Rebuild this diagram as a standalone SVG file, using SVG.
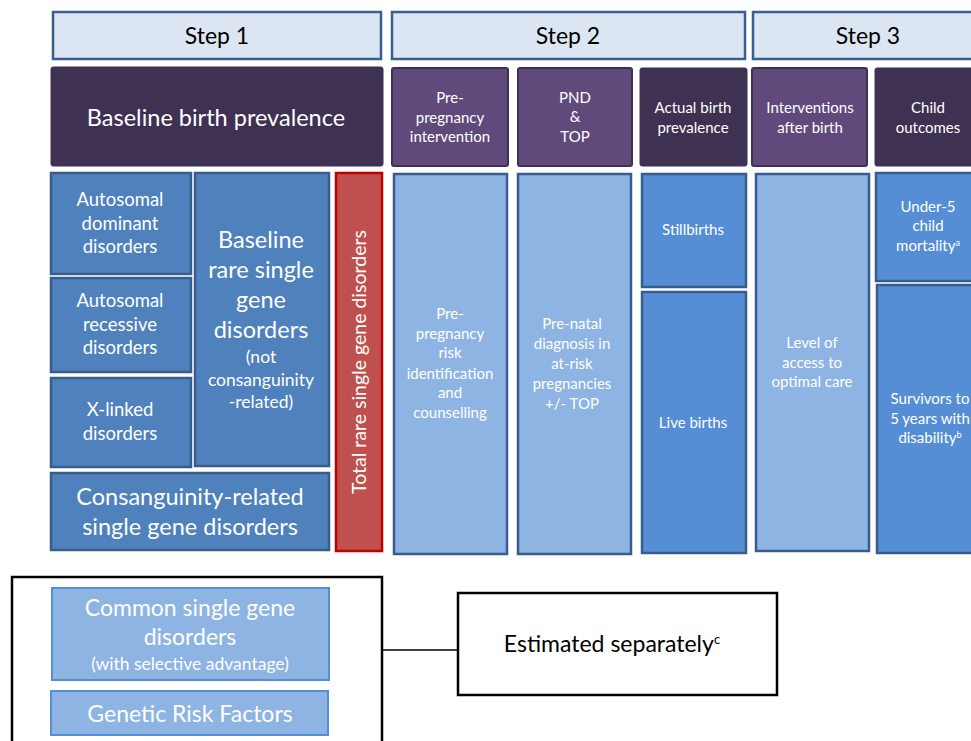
<svg xmlns="http://www.w3.org/2000/svg" width="971" height="741" viewBox="0 0 971 741">
<style>
text{font-family:Lato,"Liberation Sans",sans-serif;text-anchor:middle;fill:#fff}
.step{fill:#dce6f2;stroke:#3a5f8c;stroke-width:2.5}
.stept{fill:#000;font-size:23px}
.dp{fill:#3f3151;stroke:#3f3151;stroke-width:1}
.lp{fill:#604a7b;stroke:#3f3151;stroke-width:2}
.db{fill:#4f81bd;stroke:#385d8a;stroke-width:2.5}
.mb{fill:#558ed5;stroke:#385d8a;stroke-width:2.5}
.lb{fill:#8eb4e3;stroke:#385d8a;stroke-width:2.5}
.red{fill:#c0504d;stroke:#c00000;stroke-width:2.5}
.bb{fill:#8eb4e3;stroke:#558ed5;stroke-width:2}
.s14{font-size:15px}
.s17{font-size:18.5px}
.s21{font-size:23.5px}
.s16{font-size:17.5px}
.s20{font-size:23px}
.s19{font-size:19.5px}
.k{fill:#000}
</style>
<rect width="971" height="741" fill="#fff"/>
<g id="step1"><rect class="step" x="53" y="12" width="328" height="47"/><text class="stept" x="217" y="44">Step 1</text></g>
<g id="step2"><rect class="step" x="392" y="12" width="353" height="47"/><text class="stept" x="568" y="44">Step 2</text></g>
<g id="step3"><rect class="step" x="753" y="12" width="230" height="47"/><text class="stept" x="868" y="44">Step 3</text></g>

<g id="baseline-birth"><rect class="dp" x="51" y="67" width="332" height="99" rx="2"/><text class="s21" x="216" y="126">Baseline birth prevalence</text></g>
<g id="pre-pregnancy-int"><rect class="lp" x="392" y="68" width="116" height="98" rx="2"/><text class="s14"><tspan x="450" y="103">Pre-</tspan><tspan x="450" y="123">pregnancy</tspan><tspan x="450" y="142">intervention</tspan></text></g>
<g id="pnd-top"><rect class="lp" x="518" y="68" width="114" height="98" rx="2"/><text class="s14"><tspan x="575" y="103">PND</tspan><tspan x="575" y="122">&amp;</tspan><tspan x="575" y="142">TOP</tspan></text></g>
<g id="actual-birth"><rect class="dp" x="640" y="68" width="107" height="98" rx="2"/><text class="s14"><tspan x="693" y="113">Actual  birth</tspan><tspan x="693" y="133">prevalence</tspan></text></g>
<g id="interventions-after"><rect class="lp" x="752" y="68" width="115" height="98" rx="2"/><text class="s14"><tspan x="810" y="113">Interventions</tspan><tspan x="810" y="133">after birth</tspan></text></g>
<g id="child-outcomes"><rect class="dp" x="875" y="68" width="110" height="98" rx="2"/><text class="s14"><tspan x="928" y="113">Child</tspan><tspan x="928" y="133">outcomes</tspan></text></g>

<g id="ad"><rect class="db" x="51" y="173" width="140" height="101"/><text class="s17"><tspan x="120" y="206">Autosomal</tspan><tspan x="120" y="230">dominant</tspan><tspan x="120" y="253">disorders</tspan></text></g>
<g id="ar"><rect class="db" x="51" y="278" width="140" height="94"/><text class="s17"><tspan x="120" y="307">Autosomal</tspan><tspan x="120" y="331">recessive</tspan><tspan x="120" y="354">disorders</tspan></text></g>
<g id="xl"><rect class="db" x="51" y="378" width="140" height="89"/><text class="s17"><tspan x="120" y="416">X-linked</tspan><tspan x="120" y="440">disorders</tspan></text></g>
<g id="baseline-rare"><rect class="db" x="195" y="173" width="134" height="293"/><text class="s21"><tspan x="261" y="248">Baseline</tspan><tspan x="261" y="278">rare single</tspan><tspan x="261" y="308">gene</tspan><tspan x="261" y="338">disorders</tspan></text><text class="s16"><tspan x="261" y="363">(not</tspan><tspan x="261" y="386">consanguinity</tspan><tspan x="261" y="408">-related)</tspan></text></g>
<g id="consang"><rect class="db" x="51" y="473" width="278" height="77"/><text class="s21"><tspan x="190" y="505">Consanguinity-related</tspan><tspan x="190" y="535">single gene disorders</tspan></text></g>
<g id="total"><rect class="red" x="336" y="173" width="46" height="378"/><text class="s19" transform="translate(366,362) rotate(-90)" x="0" y="0">Total rare single gene disorders</text></g>

<g id="risk-id"><rect class="lb" x="394" y="174" width="113" height="380"/><text class="s14"><tspan x="450" y="319">Pre-</tspan><tspan x="450" y="339">pregnancy</tspan><tspan x="450" y="358">risk</tspan><tspan x="450" y="379">identification</tspan><tspan x="450" y="398">and</tspan><tspan x="450" y="418">counselling</tspan></text></g>
<g id="prenatal"><rect class="lb" x="518" y="174" width="113" height="380"/><text class="s14"><tspan x="572" y="329">Pre-natal</tspan><tspan x="572" y="349">diagnosis in</tspan><tspan x="572" y="369">at-risk</tspan><tspan x="572" y="389">pregnancies</tspan><tspan x="572" y="409">+/-  TOP</tspan></text></g>
<g id="stillbirths"><rect class="mb" x="642" y="174" width="104" height="113"/><text class="s14" x="693" y="235">Stillbirths</text></g>
<g id="livebirths"><rect class="mb" x="642" y="292" width="104" height="261"/><text class="s14" x="693" y="428">Live births</text></g>
<g id="access"><rect class="lb" x="756" y="174" width="113" height="377"/><text class="s14"><tspan x="812" y="348">Level of</tspan><tspan x="812" y="368">access to</tspan><tspan x="812" y="387">optimal  care</tspan></text></g>
<g id="under5"><rect class="mb" x="876" y="173" width="110" height="108"/><text class="s14"><tspan x="928" y="212">Under-5</tspan><tspan x="928" y="231">child</tspan><tspan x="928" y="251">mortality<tspan font-size="9" dy="-5">a</tspan></tspan></text></g>
<g id="survivors"><rect class="mb" x="877" y="285" width="110" height="268"/><text class="s14"><tspan x="930" y="404">Survivors  to</tspan><tspan x="930" y="424">5 years with</tspan><tspan x="930" y="443">disability<tspan font-size="9" dy="-5">b</tspan></tspan></text></g>

<g id="group-box"><rect x="12" y="577" width="370" height="170" fill="#fff" stroke="#000" stroke-width="2.5"/></g>
<g id="common"><rect class="bb" x="52" y="588" width="277" height="92"/><text class="s20"><tspan x="190" y="616">Common single gene</tspan><tspan x="190" y="645">disorders</tspan></text><text class="s16" x="190" y="670">(with selective advantage)</text></g>
<g id="grf"><rect class="bb" x="51" y="691" width="277" height="44"/><text class="s20" x="190" y="722">Genetic Risk Factors</text></g>
<g id="estimated"><rect x="458" y="593" width="319" height="102" fill="#fff" stroke="#000" stroke-width="2.5"/><text class="s20 k" x="612" y="652">Estimated separately<tspan font-size="13" dy="-8">c</tspan></text></g>
<g id="connectors"><line x1="383" y1="650" x2="458" y2="650" stroke="#000" stroke-width="1.5"/></g>
</svg>
